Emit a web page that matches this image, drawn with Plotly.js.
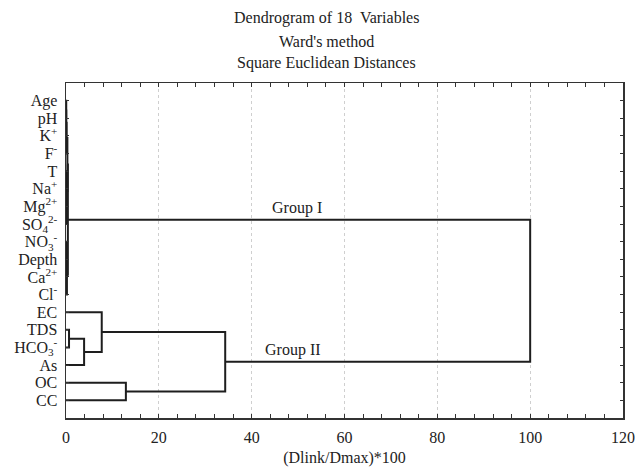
<!DOCTYPE html>
<html>
<head>
<meta charset="utf-8">
<script src="https://cdn.plot.ly/plotly-3.0.1.min.js"></script>
<style>html,body{margin:0;padding:0;background:#fff;}#chart{width:635px;height:467px;}</style>
</head>
<body>
<div id="chart"></div>
<script>
// Leaf labels, top to bottom
const labels = ['Age','pH','K<sup>+</sup>','F<sup>-</sup>','T','Na<sup>+</sup>','Mg<sup>2+</sup>',
  'SO<sub>4</sub><sup>2-</sup>','NO<sub>3</sub><sup>-</sup>','Depth','Ca<sup>2+</sup>','Cl<sup>-</sup>',
  'EC','TDS','HCO<sub>3</sub><sup>-</sup>','As','OC','CC'];
// Linkage: cluster ids 0..17 are leaves, new clusters numbered from 18
const mergeLeft   = [0, 18, 19, 5, 21, 4, 20, 9, 8, 26, 24, 13, 29, 12, 16, 31, 28];
const mergeRight  = [1, 2, 3, 6, 7, 22, 23, 10, 25, 11, 27, 14, 15, 30, 17, 32, 33];
const mergeHeight = [0.05, 0.08, 0.12, 0.1, 0.15, 0.2, 0.3, 0.1, 0.15, 0.2, 0.4, 0.65, 3.9, 7.7, 12.9, 34.3, 100];
const groupNames = ['Group I', 'Group II'];
const groupPos = [[49.8, 6.75], [48.9, 14.81]];
const titleLines = ['Dendrogram of 18  Variables', "Ward's method", 'Square Euclidean Distances'];
const xTicks = [0, 20, 40, 60, 80, 100, 120];

const n = labels.length;
const posY = [], posX = [];
for (let i = 0; i < n; i++) { posY.push(i); posX.push(0); }
const lx = [], ly = [];
for (let k = 0; k < mergeLeft.length; k++) {
  const a = mergeLeft[k], b = mergeRight[k], h = mergeHeight[k];
  lx.push(posX[a], h, h, posX[b], null);
  ly.push(posY[a], posY[a], posY[b], posY[b], null);
  posY.push((posY[a] + posY[b]) / 2);
  posX.push(h);
}

const font = {family: 'Liberation Serif, Times New Roman, serif', size: 16, color: '#222'};
const traces = [{
  type: 'scatter', mode: 'lines', x: lx, y: ly,
  line: {color: '#1e1e1e', width: 2}, hoverinfo: 'skip', showlegend: false
}];

const titleY = [1.194, 1.125, 1.059];
const annotations = groupNames.map((g, i) => ({
  x: groupPos[i][0], y: groupPos[i][1], xref: 'x', yref: 'y', text: g,
  showarrow: false, yanchor: 'bottom', yshift: 1, font: font
}));
titleLines.forEach((t, i) => annotations.push({
  x: 0.4677, y: titleY[i], xref: 'paper', yref: 'paper', text: t,
  showarrow: false, xanchor: 'center', yanchor: 'middle', font: font
}));

const layout = {
  width: 635, height: 467,
  margin: {l: 66, r: 12, t: 83, b: 49},
  paper_bgcolor: '#fff', plot_bgcolor: '#fff',
  font: font,
  xaxis: {
    range: [0, 120], tickvals: xTicks,
    ticks: 'inside', ticklen: 4, tickcolor: '#333',
    minor: {dtick: 4, ticks: 'inside', ticklen: 4, tickcolor: '#333', showgrid: false},
    showline: true, linecolor: '#333', linewidth: 1.5, mirror: 'ticks',
    showgrid: true, gridcolor: '#cfcfcf', griddash: '3px,3px', gridwidth: 1,
    zeroline: false, tickfont: font, ticklabelstandoff: 4,
    title: {text: '(Dlink/Dmax)*100', font: font, standoff: 10}
  },
  yaxis: {
    range: [18, -1], tickvals: labels.map((_, i) => i), ticktext: labels,
    ticks: 'inside', ticklen: 3, tickcolor: '#333',
    showline: true, linecolor: '#333', linewidth: 1.5, mirror: 'ticks',
    showgrid: false, zeroline: false, tickfont: font, ticklabelstandoff: 4
  },
  annotations: annotations
};
Plotly.newPlot('chart', traces, layout, {displayModeBar: false, staticPlot: true});
</script>
</body>
</html>
